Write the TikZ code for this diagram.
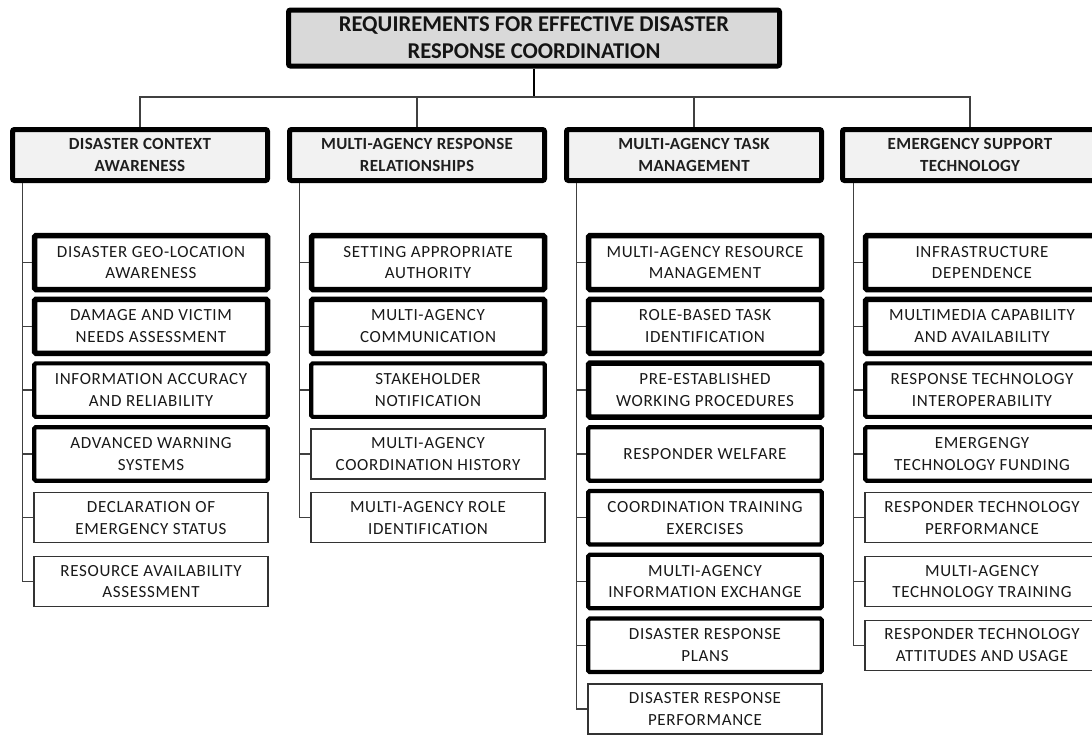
\documentclass[tikz,border=0pt]{standalone}
\usepackage{fontspec}
\setmainfont{Carlito}
\newfontfamily\itemfont{Carlito}[LetterSpace=4.0]
\newfontfamily\headfont{Carlito}[LetterSpace=2.0]

\tikzset{
  linkline/.style={line width=1.4pt, draw=black!75},
  titlebox/.style={draw=black, line width=5pt, fill=black!15, rounded corners=2pt,
    minimum width=491pt, minimum height=56pt, align=center, inner sep=0pt,
    font=\fontsize{22.6}{27}\selectfont\bfseries, text=black!92},
  headbox/.style={draw=black, line width=5pt, fill=black!5, rounded corners=2pt,
    minimum width=255pt, minimum height=51pt, align=center, inner sep=0pt,
    font=\headfont\fontsize{17}{22}\selectfont\bfseries, text=black!88},
  itembase/.style={draw=black, fill=white, rounded corners=1.5pt, align=center,
    inner sep=0pt, font=\itemfont\fontsize{17}{21.7}\selectfont, text=black!90},
  heavybox/.style={itembase, line width=5.5pt, minimum width=233pt, minimum height=54pt},
  strongbox/.style={itembase, line width=4.2pt, minimum width=233.5pt, minimum height=53.5pt},
  plainbox/.style={itembase, line width=1.3pt, draw=black!80, rounded corners=0pt,
    minimum width=234pt, minimum height=50pt},
}

\begin{document}
\begin{tikzpicture}[x=1pt, y=-1pt]
\useasboundingbox (0,0) rectangle (1092,734);
\clip (0,0) rectangle (1092,734);

% level 0 and level 1
\node[titlebox] (top) at (534,38) {REQUIREMENTS FOR EFFECTIVE DISASTER\\RESPONSE COORDINATION};
\node[headbox] (h1) at (140,155) {DISASTER CONTEXT\\AWARENESS};
\node[headbox] (h2) at (417,155) {MULTI-AGENCY RESPONSE\\RELATIONSHIPS};
\node[headbox] (h3) at (694,155) {MULTI-AGENCY TASK\\MANAGEMENT};
\node[headbox] (h4) at (970,155) {EMERGENCY SUPPORT\\TECHNOLOGY};

% spine positions and the bus line
\coordinate (bar) at (0,97);
\coordinate (s1) at (22.5,0);
\coordinate (s2) at (299.5,0);
\coordinate (s3) at (576.5,0);
\coordinate (s4) at (853.5,0);

% column 1
\node[heavybox]  (a1) at (151,262.5) {DISASTER GEO-LOCATION\\AWARENESS};
\node[heavybox]  (a2) at (151,326.3) {DAMAGE AND VICTIM\\NEEDS ASSESSMENT};
\node[strongbox] (a3) at (151,390.1) {INFORMATION ACCURACY\\AND RELIABILITY};
\node[strongbox] (a4) at (151,453.9) {ADVANCED WARNING\\SYSTEMS};
\node[plainbox]  (a5) at (151,517.7) {DECLARATION OF\\EMERGENCY STATUS};
\node[plainbox]  (a6) at (151,581.5) {RESOURCE AVAILABILITY\\ASSESSMENT};

% column 2
\node[heavybox]  (b1) at (428,262.5) {SETTING APPROPRIATE\\AUTHORITY};
\node[heavybox]  (b2) at (428,326.3) {MULTI-AGENCY\\COMMUNICATION};
\node[strongbox] (b3) at (428,390.1) {STAKEHOLDER\\NOTIFICATION};
\node[plainbox]  (b4) at (428,453.9) {MULTI-AGENCY\\COORDINATION HISTORY};
\node[plainbox]  (b5) at (428,517.7) {MULTI-AGENCY ROLE\\IDENTIFICATION};

% column 3
\node[heavybox]  (c1) at (705,262.5) {MULTI-AGENCY RESOURCE\\MANAGEMENT};
\node[heavybox]  (c2) at (705,326.3) {ROLE-BASED TASK\\IDENTIFICATION};
\node[heavybox]  (c3) at (705,390.1) {PRE-ESTABLISHED\\WORKING PROCEDURES};
\node[strongbox] (c4) at (705,453.9) {RESPONDER WELFARE};
\node[strongbox] (c5) at (705,517.7) {COORDINATION TRAINING\\EXERCISES};
\node[strongbox] (c6) at (705,581.5) {MULTI-AGENCY\\INFORMATION EXCHANGE};
\node[strongbox] (c7) at (705,645.3) {DISASTER RESPONSE\\PLANS};
\node[plainbox]  (c8) at (705,709.1) {DISASTER RESPONSE\\PERFORMANCE};

% column 4
\node[heavybox]  (d1) at (982,262.5) {INFRASTRUCTURE\\DEPENDENCE};
\node[heavybox]  (d2) at (982,326.3) {MULTIMEDIA CAPABILITY\\AND AVAILABILITY};
\node[strongbox] (d3) at (982,390.1) {RESPONSE TECHNOLOGY\\INTEROPERABILITY};
\node[strongbox] (d4) at (982,453.9) {EMERGENGY\\TECHNOLOGY FUNDING};
\node[plainbox]  (d5) at (982,517.7) {RESPONDER TECHNOLOGY\\PERFORMANCE};
\node[plainbox]  (d6) at (982,581.5) {MULTI-AGENCY\\TECHNOLOGY TRAINING};
\node[plainbox]  (d7) at (982,645.3) {RESPONDER TECHNOLOGY\\ATTITUDES AND USAGE};

% connectors from the root to the four categories
\draw[linkline, draw=black, line width=1.8pt] (top.south) -- (top.south |- bar);
\draw[linkline] (h1.north) -- (h1.north |- bar) -- (h4.north |- bar) -- (h4.north);
\draw[linkline] (h2.north) -- (h2.north |- bar);
\draw[linkline] (h3.north) -- (h3.north |- bar);

% spines with branches to every requirement
\draw[linkline] (h1.south -| s1) |- (a6.west);
\foreach \n in {a1,a2,a3,a4,a5} \draw[linkline] (\n.west -| s1) -- (\n.west);
\draw[linkline] (h2.south -| s2) |- (b5.west);
\foreach \n in {b1,b2,b3,b4} \draw[linkline] (\n.west -| s2) -- (\n.west);
\draw[linkline] (h3.south -| s3) |- (c8.west);
\foreach \n in {c1,c2,c3,c4,c5,c6,c7} \draw[linkline] (\n.west -| s3) -- (\n.west);
\draw[linkline] (h4.south -| s4) |- (d7.west);
\foreach \n in {d1,d2,d3,d4,d5,d6} \draw[linkline] (\n.west -| s4) -- (\n.west);
\end{tikzpicture}
\end{document}
